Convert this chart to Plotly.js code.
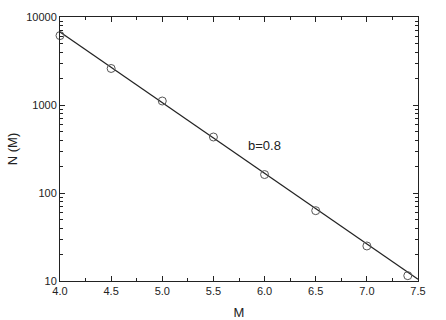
<!DOCTYPE html>
<html>
<head>
<meta charset="utf-8">
<script src="https://cdn.plot.ly/plotly-3.0.1.min.js"></script>
<style>html,body{margin:0;padding:0;background:#fff;}#chart{width:446px;height:320px;}</style>
</head>
<body>
<div id="chart"></div>
<script>
const magnitudes = [4.0, 4.5, 5.0, 5.5, 6.0, 6.5, 7.0, 7.4];
const counts = [6150, 2600, 1110, 433, 162, 63, 25, 11.5];
const fitM = [4.0, 7.5];
const fitN = [6750, 10.5];
const xTickVals = [4.0, 4.5, 5.0, 5.5, 6.0, 6.5, 7.0, 7.5];
const xTickText = ['4.0', '4.5', '5.0', '5.5', '6.0', '6.5', '7.0', '7.5'];
const yTickVals = [10, 100, 1000, 10000];
const yTickText = ['10', '100', '1000', '10000'];
const labelText = 'b=0.8';

const font = 'Liberation Sans, Arial, sans-serif';

const traces = [
  {x: fitM, y: fitN, mode: 'lines', line: {color: '#222', width: 1.2}, hoverinfo: 'skip', cliponaxis: false},
  {x: magnitudes, y: counts, mode: 'markers', marker: {symbol: 'circle-open', size: 8, color: '#555', line: {width: 1}}, cliponaxis: false}
];

const layout = {
  width: 446, height: 320,
  margin: {l: 60, r: 28, t: 17, b: 39},
  paper_bgcolor: '#fff', plot_bgcolor: '#fff',
  showlegend: false,
  font: {family: font, color: '#222', size: 11},
  xaxis: {
    range: [4.0, 7.5], tickvals: xTickVals, ticktext: xTickText,
    ticks: 'inside', ticklen: 5, tickcolor: '#222', tickwidth: 1,
    showline: true, linecolor: '#222', linewidth: 1, mirror: 'ticks',
    showgrid: false, zeroline: false,
    minor: {ticks: 'inside', dtick: 0.25, ticklen: 3, tickcolor: '#222', showgrid: false},
    tickfont: {size: 11, family: font},
    title: {text: 'M', font: {size: 13, family: font}, standoff: 11}
  },
  yaxis: {
    type: 'log', range: [1, 4], tickvals: yTickVals, ticktext: yTickText,
    ticks: 'inside', ticklen: 5, tickcolor: '#222', tickwidth: 1,
    showline: true, linecolor: '#222', linewidth: 1, mirror: 'ticks',
    showgrid: false, zeroline: false,
    minor: {ticks: 'inside', dtick: 'D1', ticklen: 3, tickcolor: '#222', showgrid: false},
    tickfont: {size: 11, family: font},
    title: {text: 'N (M)', font: {size: 13, family: font}, standoff: 5}
  },
  annotations: [
    {x: 5.82, y: Math.log10(347), xref: 'x', yref: 'y', text: labelText, showarrow: false, xanchor: 'left', yanchor: 'middle', font: {size: 13, family: font, color: '#222'}}
  ]
};

Plotly.newPlot('chart', traces, layout, {displayModeBar: false, staticPlot: true});
</script>
</body>
</html>
